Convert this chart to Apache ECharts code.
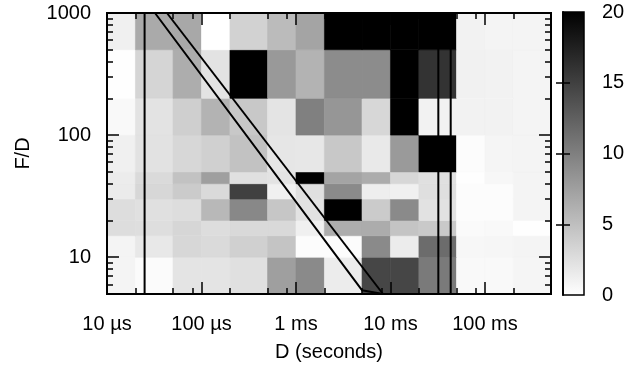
<!DOCTYPE html>
<html><head><meta charset="utf-8">
<script src="https://cdn.jsdelivr.net/npm/echarts@6/dist/echarts.min.js"></script>
<style>html,body{margin:0;padding:0;background:#fff}#c{width:631px;height:368px}</style>
</head><body><div id="c"></div>
<script>
// Bin edges (D in seconds, F/D ratio)
const xEdges = [1e-5, 2e-5, 5e-5, 1e-4, 2e-4, 5e-4, 1e-3, 2e-3, 5e-3, 1e-2, 2e-2, 5e-2, 1e-1, 2e-1, 5e-1];
const yEdges = [5, 10, 15, 20, 30, 40, 50, 100, 200, 500, 1000];

// Cell values per F/D band (columns follow xEdges)
const row_5_10     = [0.9, 0.3, 2.1, 2.1, 2.4, 7.5, 9.2, 1.5, 14.5, 14.5, 10.4, 0.5, 0.5, 0.8];
const row_10_15    = [0.9, 1.8, 3.1, 2.9, 3.7, 4.6, 0.2, 0.2, 9.2, 1.5, 11.5, 0.6, 0.7, 0.9];
const row_15_20    = [2.7, 2.6, 3.2, 2.7, 3.0, 3.0, 1.2, 6.4, 6.5, 4.6, 4.2, 0.4, 0.5, 0.1];
const row_20_30    = [2.7, 2.4, 2.7, 5.6, 9.3, 4.5, 2.3, 22, 4.1, 9.2, 2.3, 0.2, 0.2, 0.9];
const row_30_40    = [1.6, 3.1, 4.1, 2.9, 15.0, 1.2, 2.4, 9.2, 1.3, 1.2, 2.5, 0.2, 0.2, 0.9];
const row_40_50    = [1.5, 2.9, 4.8, 7.5, 2.4, 2.2, 22, 7.1, 6.5, 3.1, 2.4, 0.1, 0.6, 0.9];
const row_50_100   = [1.2, 2.3, 3.1, 3.7, 4.8, 2.0, 1.9, 4.3, 1.7, 7.9, 22, 0.2, 0.8, 0.9];
const row_100_200  = [0.5, 2.2, 3.8, 6.0, 4.3, 2.1, 10.0, 8.2, 3.1, 22, 1.0, 1.0, 1.0, 0.9];
const row_200_500  = [0.1, 3.3, 6.4, 2.2, 22, 8.0, 6.0, 9.0, 9.0, 22, 16.0, 1.1, 1.0, 0.9];
const row_500_1000 = [1.2, 6.7, 6.8, 0.0, 3.5, 5.3, 7.1, 22, 22, 22, 22, 1.0, 0.9, 0.9];
const rows = [row_5_10, row_10_15, row_15_20, row_20_30, row_30_40, row_40_50, row_50_100, row_100_200, row_200_500, row_500_1000];

// Ticks and labels
const xMajorTicks = [1e-5, 1e-4, 1e-3, 1e-2, 1e-1];
const xTickLabels = ['10 µs', '100 µs', '1 ms', '10 ms', '100 ms'];
const xMinorTicks = [2e-5, 5e-5, 8e-5, 2e-4, 5e-4, 8e-4, 2e-3, 5e-3, 8e-3, 2e-2, 5e-2, 8e-2, 2e-1];
const yMajorTicks = [10, 100, 1000];
const yTickLabels = ['10', '100', '1000'];
const yMinorTicks = [6, 7, 8, 9, 20, 30, 40, 50, 60, 70, 80, 90, 200, 300, 400, 500, 600, 700, 800, 900];
const cbLabels = [0, 5, 10, 15, 20];
const cbInnerTicks = [5, 10, 15];

// Overlay lines
const verticalLinesD = [2.5e-5, 0.0321, 0.0434];
const diagA = [[3.22e-5, 1000], [4.99e-3, 5.37], [8.34e-3, 5]];
const diagB = [[4.31e-5, 1000], [8.34e-3, 5]];

const L = Math.log10;
const xMin = L(xEdges[0]), xMax = L(xEdges[xEdges.length - 1]);
const yMin = L(yEdges[0]), yMax = L(yEdges[yEdges.length - 1]);
const FONT = 'Liberation Sans';
const FS = 20;

const cells = [];
rows.forEach((row, r) => row.forEach((v, c) => {
  cells.push([L(xEdges[c]), L(xEdges[c + 1]), L(yEdges[r]), L(yEdges[r + 1]), v]);
}));

function near(a, b) { return Math.abs(a - b) < 1e-6; }

function xAxisDef(pos, ticks, len, withLabels) {
  const tv = ticks.map(L);
  return {
    type: 'value', gridIndex: 0, position: pos, min: xMin, max: xMax, z: 10,
    axisLine: { show: true, onZero: false, lineStyle: { color: '#000', width: 2 } },
    axisTick: { show: true, inside: true, length: len, lineStyle: { color: '#000', width: 1.5 }, customValues: tv },
    axisLabel: withLabels ? {
      show: true, customValues: tv, margin: 20, color: '#000', fontSize: FS, fontFamily: FONT,
      formatter: v => { const i = tv.findIndex(t => near(t, v)); return i >= 0 ? xTickLabels[i] : ''; }
    } : { show: false },
    splitLine: { show: false },
    name: withLabels ? 'D (seconds)' : '', nameLocation: 'middle', nameGap: 48,
    nameTextStyle: { color: '#000', fontSize: FS, fontFamily: FONT }
  };
}
function yAxisDef(pos, ticks, len, withLabels) {
  const tv = ticks.map(L);
  return {
    type: 'value', gridIndex: 0, position: pos, min: yMin, max: yMax, z: 10,
    axisLine: { show: true, onZero: false, lineStyle: { color: '#000', width: 2 } },
    axisTick: { show: true, inside: true, length: len, lineStyle: { color: '#000', width: 1.5 }, customValues: tv },
    axisLabel: withLabels ? {
      show: true, customValues: tv, margin: 16, color: '#000', fontSize: FS, fontFamily: FONT,
      formatter: v => { const i = tv.findIndex(t => near(t, v)); return i >= 0 ? yTickLabels[i] : ''; }
    } : { show: false },
    splitLine: { show: false },
    name: withLabels ? 'F/D' : '', nameLocation: 'middle', nameGap: 74,
    nameTextStyle: { color: '#000', fontSize: FS, fontFamily: FONT }
  };
}

const lineStyle = { color: '#000', width: 2 };
const overlay = [];
verticalLinesD.forEach(d => overlay.push({
  type: 'line', xAxisIndex: 0, yAxisIndex: 0, symbol: 'none', silent: true, z: 5,
  lineStyle, data: [[L(d), yMin], [L(d), yMax]]
}));
[diagA, diagB].forEach(pts => overlay.push({
  type: 'line', xAxisIndex: 0, yAxisIndex: 0, symbol: 'none', silent: true, z: 5,
  lineStyle, data: pts.map(p => [L(p[0]), L(p[1])])
}));

const chart = echarts.init(document.getElementById('c'), null, { renderer: 'canvas' });
chart.setOption({
  animation: false,
  backgroundColor: '#fff',
  grid: [
    { left: 107, right: 80, top: 13, bottom: 74 },
    { left: 563, right: 47, top: 12, bottom: 73 }
  ],
  xAxis: [
    xAxisDef('bottom', xMajorTicks, 12, true),
    xAxisDef('bottom', xMinorTicks, 6, false),
    xAxisDef('top', xMajorTicks, 12, false),
    xAxisDef('top', xMinorTicks, 6, false),
    { type: 'value', gridIndex: 1, min: 0, max: 1, show: false }
  ],
  yAxis: [
    yAxisDef('left', yMajorTicks, 12, true),
    yAxisDef('left', yMinorTicks, 6, false),
    yAxisDef('right', yMajorTicks, 12, false),
    yAxisDef('right', yMinorTicks, 6, false),
    {
      type: 'value', gridIndex: 1, position: 'right', min: 0, max: 20, z: 10,
      axisLine: { show: true, lineStyle: { color: '#000', width: 1.5 } },
      axisTick: { show: true, inside: true, length: 7, lineStyle: { color: '#000', width: 1.5 }, customValues: cbInnerTicks },
      axisLabel: { show: true, customValues: cbLabels, margin: 18, color: '#000', fontSize: FS, fontFamily: FONT },
      splitLine: { show: false }
    },
    {
      type: 'value', gridIndex: 1, position: 'left', min: 0, max: 20, z: 10,
      axisLine: { show: true, lineStyle: { color: '#000', width: 1.5 } },
      axisTick: { show: true, inside: true, length: 7, lineStyle: { color: '#000', width: 1.5 }, customValues: cbInnerTicks },
      axisLabel: { show: false }, splitLine: { show: false }
    }
  ],
  series: [
    {
      type: 'custom', xAxisIndex: 0, yAxisIndex: 0, silent: true, z: 1,
      encode: { x: [0, 1], y: [2, 3] },
      data: cells,
      renderItem: (params, api) => {
        const a = api.coord([api.value(0), api.value(3)]);
        const b = api.coord([api.value(1), api.value(2)]);
        const v = Math.max(0, Math.min(20, api.value(4)));
        const g = Math.round(255 * (1 - v / 20));
        const col = `rgb(${g},${g},${g})`;
        return { type: 'rect', shape: { x: a[0], y: a[1], width: b[0] - a[0], height: b[1] - a[1] },
                 style: { fill: col, stroke: col, lineWidth: 0.6 } };
      }
    },
    ...overlay,
    {
      type: 'custom', xAxisIndex: 4, yAxisIndex: 4, silent: true, z: 1,
      data: [[0, 1, 0, 20]],
      renderItem: (params, api) => {
        const a = api.coord([api.value(0), api.value(3)]);
        const b = api.coord([api.value(1), api.value(2)]);
        return { type: 'rect', shape: { x: a[0], y: a[1], width: b[0] - a[0], height: b[1] - a[1] },
                 style: { fill: new echarts.graphic.LinearGradient(0, 0, 0, 1, [{ offset: 0, color: '#000' }, { offset: 1, color: '#fff' }]),
                          stroke: '#000', lineWidth: 1.5 } };
      }
    }
  ]
});
</script></body></html>
